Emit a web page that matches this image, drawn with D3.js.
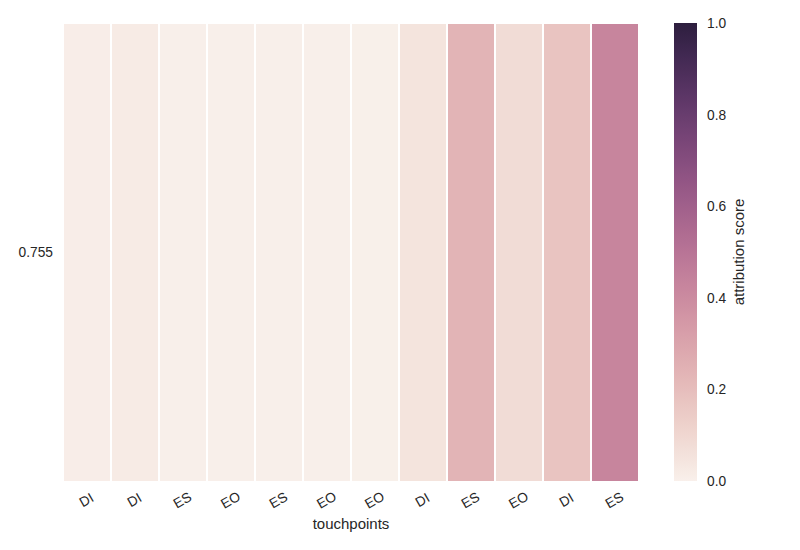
<!DOCTYPE html>
<meta charset="utf-8">
<html>
<head>
<title>attribution heatmap</title>
<script src="https://cdnjs.cloudflare.com/ajax/libs/d3/7.8.5/d3.min.js"></script>
<style>
body {
  margin: 0px;
  background: #fff;
}
text {
  font-family: "Liberation Sans", Arial, sans-serif;
  fill: #262626;
}
.axis path, .axis line { display: none; }
</style>
</head>
<body>
<div class="target"></div>
<script>
// data
var touchpoints = ['DI', 'DI', 'ES', 'EO', 'ES', 'EO', 'EO', 'DI', 'ES', 'EO', 'DI', 'ES'];
var rowLabels = ['0.755'];
var scores = [0.012, 0.02, 0.004, 0.004, 0.004, 0.004, 0.003, 0.05, 0.235, 0.08, 0.175, 0.425];
var cbarTicks = [0.0, 0.2, 0.4, 0.6, 0.8, 1.0];

var width = 800, height = 550;
var margin = {left: 63, right: 639, top: 23, bottom: 482};

// seaborn cubehelix_palette(light=.95, dark=.15)
function cubehelix(x) {
  var start = 0, rot = 0.4, gamma = 1, hue = 0.8;
  var xg = Math.pow(x, gamma),
    a = hue * xg * (1 - xg) / 2,
    phi = 2 * Math.PI * (start / 3 + rot * x),
    c = Math.cos(phi), s = Math.sin(phi);
  function clip(v) { return Math.max(0, Math.min(1, v)); }
  var r = clip(xg + a * (-0.14861 * c + 1.78277 * s)),
    g = clip(xg + a * (-0.29227 * c - 0.90649 * s)),
    b = clip(xg + a * (1.97294 * c));
  return d3.rgb(r * 255, g * 255, b * 255).formatHex();
}
var light = 0.95, dark = 0.15;
var color = d3.scaleSequential(function(t) { return cubehelix(light + (dark - light) * t); })
  .domain([0, 1]);

var svg = d3.select('.target').append('svg')
  .attr('width', width)
  .attr('height', height);

var x = d3.scaleBand()
  .domain(d3.range(touchpoints.length))
  .range([margin.left, margin.right]);

var y = d3.scaleBand()
  .domain(rowLabels)
  .range([margin.top, margin.bottom]);

svg.append('g').selectAll('rect')
  .data(scores)
  .enter()
  .append('rect')
    .attr('x', function(d, i) { return x(i); })
    .attr('y', y(rowLabels[0]))
    .attr('width', x.bandwidth())
    .attr('height', y.bandwidth())
    .attr('fill', function(d) { return color(d); })
    .attr('stroke', '#fff')
    .attr('stroke-width', 2);

// x axis
var xAxis = svg.append('g')
  .attr('class', 'axis')
  .attr('transform', 'translate(0,' + margin.bottom + ')')
  .call(d3.axisBottom(x).tickSize(0).tickFormat(function(i) { return touchpoints[i]; }));
xAxis.selectAll('text')
  .attr('y', 0)
  .attr('dy', 0)
  .attr('transform', 'translate(0,19) rotate(-30)')
  .attr('dominant-baseline', 'middle')
  .style('text-anchor', 'middle')
  .style('font-size', '13.75px');

svg.append('text')
  .attr('x', (margin.left + margin.right) / 2)
  .attr('y', 529)
  .attr('text-anchor', 'middle')
  .style('font-size', '15px')
  .text('touchpoints');

// y axis
svg.append('g')
  .attr('class', 'axis')
  .attr('transform', 'translate(' + margin.left + ',0)')
  .call(d3.axisLeft(y).tickSize(0).tickPadding(10))
  .selectAll('text')
  .style('font-size', '13.75px');

// colorbar
var cb = {x: 674, w: 23, top: 23, bottom: 481};
var grad = svg.append('defs').append('linearGradient')
  .attr('id', 'cbar')
  .attr('x1', 0).attr('y1', 1)
  .attr('x2', 0).attr('y2', 0);
grad.selectAll('stop')
  .data(d3.range(0, 1.0001, 0.02))
  .enter()
  .append('stop')
    .attr('offset', function(d) { return d; })
    .attr('stop-color', function(d) { return color(d); });

svg.append('rect')
  .attr('x', cb.x)
  .attr('y', cb.top)
  .attr('width', cb.w)
  .attr('height', cb.bottom - cb.top)
  .attr('fill', 'url(#cbar)');

var cy = d3.scaleLinear().domain([0, 1]).range([cb.bottom, cb.top]);
svg.append('g')
  .attr('class', 'axis')
  .attr('transform', 'translate(' + (cb.x + cb.w) + ',0)')
  .call(d3.axisRight(cy).tickValues(cbarTicks).tickSize(0).tickPadding(10).tickFormat(d3.format('.1f')))
  .selectAll('text')
  .style('font-size', '13.75px');

svg.append('text')
  .attr('transform', 'translate(744,' + ((cb.top + cb.bottom) / 2) + ') rotate(-90)')
  .attr('text-anchor', 'middle')
  .style('font-size', '15px')
  .text('attribution score');
</script>
</body>
</html>
